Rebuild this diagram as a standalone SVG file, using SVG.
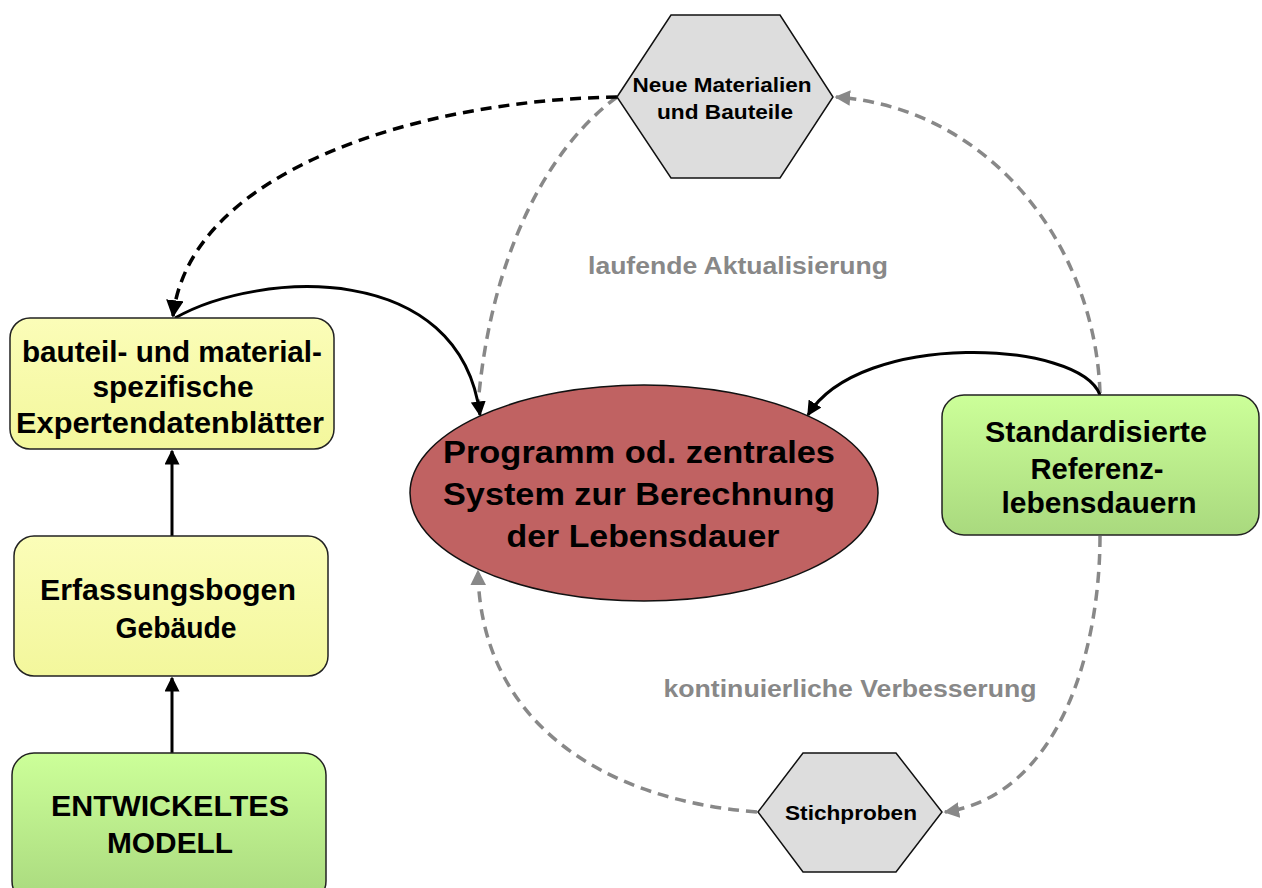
<svg xmlns="http://www.w3.org/2000/svg" width="1262" height="888" viewBox="0 0 1262 888">
<style>
  text { font-family: "Liberation Sans", Arial, sans-serif; font-weight: bold; text-anchor: middle; fill: #000; }
  .box { stroke: #222; stroke-width: 1.5; }
  .hex { fill: #DDDDDD; stroke: #111; stroke-width: 1.5; }
  .t26 { font-size: 29px; }
  .t30 { font-size: 32px; }
  .t19 { font-size: 20px; }
  .lbl { font-size: 23px; fill: #888888; }
  .blk { fill: none; stroke: #000; stroke-width: 3; }
  .blkd { fill: none; stroke: #000; stroke-width: 3.5; stroke-dasharray: 11 7; }
  .gry { fill: none; stroke: #888888; stroke-width: 3.5; stroke-dasharray: 11 7; }
</style>
<defs>
  <linearGradient id="gY" x1="0" y1="0" x2="0" y2="1">
    <stop offset="0" stop-color="#FBFDB8"/>
    <stop offset="1" stop-color="#F3F79C"/>
  </linearGradient>
  <linearGradient id="gG" x1="0" y1="0" x2="0" y2="1">
    <stop offset="0" stop-color="#CCFF99"/>
    <stop offset="1" stop-color="#A9D97E"/>
  </linearGradient>
  <marker id="aB" viewBox="0 0 10 10" refX="9" refY="5" markerWidth="5" markerHeight="5" orient="auto" markerUnits="strokeWidth">
    <path d="M0,0 L10,5 L0,10 z" fill="#000"/>
  </marker>
  <marker id="aG" viewBox="0 0 10 10" refX="9" refY="5" markerWidth="4.5" markerHeight="4.5" orient="auto" markerUnits="strokeWidth">
    <path d="M0,0 L10,5 L0,10 z" fill="#888888"/>
  </marker>
</defs>

<g id="node-programm">
  <ellipse cx="644" cy="493" rx="234" ry="108" fill="#C06262" stroke="#111" stroke-width="1.5"/>
  <text class="t30" x="639" y="463" textLength="392" lengthAdjust="spacingAndGlyphs">Programm od. zentrales</text>
  <text class="t30" x="639" y="505" textLength="392" lengthAdjust="spacingAndGlyphs">System zur Berechnung</text>
  <text class="t30" x="643" y="547" textLength="273" lengthAdjust="spacingAndGlyphs">der Lebensdauer</text>
</g>

<g id="connectors">
  <path class="gry" d="M617,97 C 545,150 490,260 478,405"/>
  <path class="gry" d="M1100,393 C 1095,245 990,108 836,97" marker-end="url(#aG)"/>
  <path class="gry" d="M1100,536 C 1100,650 1060,795 945,812" marker-end="url(#aG)"/>
  <path class="gry" d="M757,812 C 600,800 480,720 478,571" marker-end="url(#aG)"/>
  <path class="blkd" d="M617,97 C 420,100 190,170 173,316" marker-end="url(#aB)"/>
  <path class="blk" d="M175,318 C 260,270 460,260 480,415" marker-end="url(#aB)"/>
  <path class="blk" d="M1100,395 C 1080,340 860,330 808,415" marker-end="url(#aB)"/>
  <path class="blk" d="M172,536 L172,451" marker-end="url(#aB)"/>
  <path class="blk" d="M172,753 L172,678" marker-end="url(#aB)"/>
</g>

<g id="labels">
  <text class="lbl" x="738" y="274" textLength="300" lengthAdjust="spacingAndGlyphs">laufende Aktualisierung</text>
  <text class="lbl" x="850" y="697" textLength="373" lengthAdjust="spacingAndGlyphs">kontinuierliche Verbesserung</text>
</g>

<g id="node-datenblaetter">
  <rect class="box" x="10" y="318" width="324" height="131" rx="20" fill="url(#gY)"/>
  <text class="t26" x="172" y="362" textLength="300" lengthAdjust="spacingAndGlyphs">bauteil- und material-</text>
  <text class="t26" x="173" y="397" textLength="161" lengthAdjust="spacingAndGlyphs">spezifische</text>
  <text class="t26" x="170" y="433" textLength="308" lengthAdjust="spacingAndGlyphs">Expertendatenblätter</text>
</g>

<g id="node-erfassungsbogen">
  <rect class="box" x="14" y="536" width="314" height="140" rx="20" fill="url(#gY)"/>
  <text class="t26" x="168" y="600" textLength="256" lengthAdjust="spacingAndGlyphs">Erfassungsbogen</text>
  <text class="t26" x="176" y="638" textLength="121" lengthAdjust="spacingAndGlyphs">Gebäude</text>
</g>

<g id="node-modell">
  <rect class="box" x="12" y="753" width="314" height="150" rx="22" fill="url(#gG)"/>
  <text class="t26" x="170" y="816" textLength="238" lengthAdjust="spacingAndGlyphs">ENTWICKELTES</text>
  <text class="t26" x="170" y="853" textLength="126" lengthAdjust="spacingAndGlyphs">MODELL</text>
</g>

<g id="node-referenz">
  <rect class="box" x="942" y="395" width="317" height="140" rx="22" fill="url(#gG)"/>
  <text class="t26" x="1096" y="442" textLength="222" lengthAdjust="spacingAndGlyphs">Standardisierte</text>
  <text class="t26" x="1097" y="479" textLength="133" lengthAdjust="spacingAndGlyphs">Referenz-</text>
  <text class="t26" x="1099" y="513" textLength="195" lengthAdjust="spacingAndGlyphs">lebensdauern</text>
</g>

<g id="node-neue-materialien">
  <polygon class="hex" points="617,97 671,15 780,15 833,97 780,178 671,178"/>
  <text class="t19" x="722" y="92" textLength="179" lengthAdjust="spacingAndGlyphs">Neue Materialien</text>
  <text class="t19" x="725" y="119" textLength="136" lengthAdjust="spacingAndGlyphs">und Bauteile</text>
</g>

<g id="node-stichproben">
  <polygon class="hex" points="758,812 803,753 896,753 942,812 896,872 803,872"/>
  <text class="t19" x="851" y="820" textLength="132" lengthAdjust="spacingAndGlyphs">Stichproben</text>
</g>
</svg>
